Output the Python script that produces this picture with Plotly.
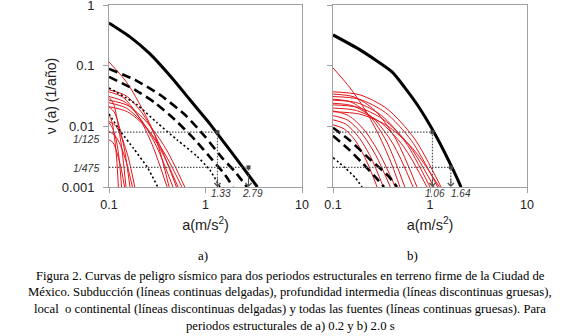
import numpy as np
import plotly.graph_objects as go

# ---- data: a (m/s2) vs exceedance rate nu(a) (1/yr) ----
# panel a) T = 0.2 s
a_total_a = [0.1, 0.165, 0.266, 0.429, 0.69, 1.11, 1.59, 2.28, 3.45]
v_total_a = [0.506, 0.298, 0.156, 0.068, 0.0274, 0.011, 0.00518, 0.00243, 0.001]

a_inter_a = [[0.1, 0.186, 0.337, 0.613, 0.989, 1.48, 2.02, 2.69],
             [0.1, 0.186, 0.30, 0.483, 0.778, 1.17, 1.59, 1.93]]
v_inter_a = [[0.0886, 0.0584, 0.0331, 0.0155, 0.00675, 0.00305, 0.00179, 0.001],
             [0.0655, 0.040, 0.0244, 0.0128, 0.006, 0.00282, 0.0016, 0.001]]

a_local_a = [[0.1, 0.195, 0.314, 0.507, 0.817, 1.11, 1.41],
             [0.1, 0.13, 0.18, 0.25, 0.32]]
v_local_a = [[0.043, 0.0227, 0.0115, 0.006, 0.0032, 0.0019, 0.001],
             [0.016, 0.0085, 0.0043, 0.0021, 0.001]]

a_sub_a = [[0.1, 0.14, 0.2, 0.28, 0.4],
           [0.1, 0.147, 0.214, 0.314, 0.46],
           [0.1, 0.151, 0.228, 0.344, 0.52],
           [0.1, 0.155, 0.239, 0.369, 0.57],
           [0.1, 0.157, 0.247, 0.388, 0.61],
           [0.1, 0.107, 0.114, 0.12, 0.125],
           [0.1, 0.11, 0.12, 0.128, 0.135],
           [0.1, 0.111, 0.122, 0.136, 0.15],
           [0.1, 0.113, 0.128, 0.146, 0.165],
           [0.1, 0.115, 0.132, 0.152, 0.175],
           [0.1, 0.11, 0.12, 0.132, 0.145],
           [0.1, 0.15, 0.2, 0.3, 0.42],
           [0.1, 0.15, 0.224, 0.334, 0.5],
           [0.1, 0.117, 0.136, 0.159, 0.185]]
v_sub_a = [[0.037, 0.030, 0.015, 0.005, 0.001],
           [0.031, 0.025, 0.013, 0.0045, 0.001],
           [0.0245, 0.020, 0.011, 0.0041, 0.001],
           [0.021, 0.0174, 0.0098, 0.0038, 0.001],
           [0.027, 0.022, 0.0117, 0.0043, 0.001],
           [0.0155, 0.012, 0.0065, 0.003, 0.001],
           [0.0115, 0.009, 0.0055, 0.0027, 0.001],
           [0.030, 0.024, 0.0126, 0.0042, 0.001],
           [0.021, 0.0173, 0.0098, 0.0038, 0.001],
           [0.0082, 0.0071, 0.0048, 0.0025, 0.001],
           [0.006, 0.0054, 0.0038, 0.0022, 0.001],
           [0.115, 0.055, 0.026, 0.007, 0.001],
           [0.04, 0.032, 0.016, 0.005, 0.001],
           [0.012, 0.0103, 0.0065, 0.003, 0.001]]

# panel b) T = 2.0 s
a_total_b = [0.1, 0.19, 0.406, 0.552, 0.752, 1.18, 1.73, 2.09]
v_total_b = [0.321, 0.182, 0.079, 0.0431, 0.0218, 0.0065, 0.00193, 0.001]

a_inter_b = [[0.1, 0.15, 0.23, 0.369, 0.457],
             [0.1, 0.143, 0.199, 0.271, 0.336]]
v_inter_b = [[0.0095, 0.0058, 0.00305, 0.00154, 0.001],
             [0.0070, 0.00428, 0.00252, 0.00148, 0.001]]

a_local_b = [[0.1, 0.133, 0.169, 0.199]]
v_local_b = [[0.00305, 0.00208, 0.00143, 0.001]]

a_sub_b = [[0.1, 0.19, 0.36, 0.685, 1.30],
           [0.1, 0.186, 0.346, 0.644, 1.20],
           [0.1, 0.182, 0.331, 0.604, 1.10],
           [0.1, 0.178, 0.316, 0.562, 1.0],
           [0.1, 0.175, 0.305, 0.532, 0.93],
           [0.1, 0.188, 0.353, 0.665, 1.25],
           [0.1, 0.135, 0.182, 0.245, 0.33],
           [0.1, 0.13, 0.169, 0.219, 0.285],
           [0.1, 0.141, 0.198, 0.277, 0.39],
           [0.1, 0.145, 0.21, 0.303, 0.44],
           [0.1, 0.161, 0.259, 0.417, 0.67],
           [0.1, 0.165, 0.271, 0.446, 0.735],
           [0.1, 0.153, 0.234, 0.359, 0.55],
           [0.1, 0.15, 0.214, 0.306, 0.406, 0.49]]
v_sub_b = [[0.037, 0.033, 0.0195, 0.0064, 0.001],
           [0.031, 0.028, 0.0169, 0.0058, 0.001],
           [0.0226, 0.0205, 0.013, 0.005, 0.001],
           [0.027, 0.0244, 0.0151, 0.0054, 0.001],
           [0.020, 0.0182, 0.0118, 0.0047, 0.001],
           [0.0174, 0.0159, 0.0105, 0.0043, 0.001],
           [0.0128, 0.0109, 0.0068, 0.0031, 0.001],
           [0.0106, 0.0091, 0.0059, 0.0028, 0.001],
           [0.015, 0.0127, 0.0076, 0.0033, 0.001],
           [0.018, 0.015, 0.0087, 0.0035, 0.001],
           [0.024, 0.0217, 0.0137, 0.0051, 0.001],
           [0.034, 0.0305, 0.0182, 0.0061, 0.001],
           [0.028, 0.0252, 0.0155, 0.0055, 0.001],
           [0.092, 0.043, 0.0188, 0.0065, 0.0023, 0.001]]

# return-period levels and the design accelerations read at them
levels = [1/125, 1/475]
level_labels = ["1/125", "1/475"]
a_design_a = [1.33, 2.79]
a_design_b = [1.06, 1.64]

x_ticks = [0.1, 1, 10]
y_ticks = [1, 0.1, 0.01, 0.001]

caption = [
    "Figura 2. Curvas de peligro sísmico para dos periodos estructurales en terreno firme de la Ciudad de",
    "México. Subducción (líneas continuas delgadas), profundidad intermedia (líneas discontinuas gruesas),",
    "local \u00a0o continental (líneas discontinuas delgadas) y todas las fuentes (líneas continuas gruesas). Para",
    "periodos estructurales de a) 0.2 y b) 2.0 s",
]

SANS = "Arial, Liberation Sans, sans-serif"
SERIF = "Times New Roman, Liberation Serif, serif"
RED = "#e3161c"
GUIDE = "#555555"
W, H = 580, 336

fig = go.Figure()

panels = [
    ("x", "y", a_total_a, v_total_a, a_inter_a, v_inter_a, a_local_a, v_local_a, a_sub_a, v_sub_a, a_design_a),
    ("x2", "y2", a_total_b, v_total_b, a_inter_b, v_inter_b, a_local_b, v_local_b, a_sub_b, v_sub_b, a_design_b),
]

for xr, yr, at, vt, ai, vi, al, vl, asub, vsub, ades in panels:
    # subduction sources: thin red
    for xs, ys in zip(asub, vsub):
        fig.add_trace(go.Scatter(x=xs, y=ys, xaxis=xr, yaxis=yr, mode="lines",
                                 line=dict(color=RED, width=1, shape="spline", smoothing=0.8)))
    # local / continental: thin dotted
    for xs, ys in zip(al, vl):
        fig.add_trace(go.Scatter(x=xs, y=ys, xaxis=xr, yaxis=yr, mode="lines",
                                 line=dict(color="black", width=1.6, dash="2px,2.5px",
                                           shape="spline", smoothing=0.6)))
    # intermediate depth: thick dashed
    for xs, ys in zip(ai, vi):
        fig.add_trace(go.Scatter(x=xs, y=ys, xaxis=xr, yaxis=yr, mode="lines",
                                 line=dict(color="black", width=2.6, dash="9px,5px",
                                           shape="spline", smoothing=0.6)))
    # all sources: thick solid
    fig.add_trace(go.Scatter(x=at, y=vt, xaxis=xr, yaxis=yr, mode="lines",
                             line=dict(color="black", width=3, shape="spline", smoothing=0.6)))

    # dotted guides: horizontal at each level, then down to the axis
    for lev, ad in zip(levels, ades):
        fig.add_trace(go.Scatter(x=[0.1, ad, ad], y=[lev, lev, 0.001], xaxis=xr, yaxis=yr,
                                 mode="lines", line=dict(color=GUIDE, width=1.2, dash="1.5px,1.5px")))
        # short stub of the guide to the left of the axis
        fig.add_shape(type="line", xref=f"{xr} domain", yref=yr, x0=-0.045, x1=0,
                      y0=np.log10(lev), y1=np.log10(lev),
                      line=dict(color=GUIDE, width=1.2, dash="1.5px,1.5px"))
        fig.add_trace(go.Scatter(x=[ad], y=[lev], xaxis=xr, yaxis=yr, mode="markers",
                                 marker=dict(symbol="square", size=4, color="#444")))
        fig.add_annotation(x=np.log10(ad), y=-3, xref=xr, yref=yr, ax=0, ay=-10,
                           text="", showarrow=True, arrowhead=4, arrowsize=1.2,
                           arrowwidth=1, arrowcolor=GUIDE)

# design acceleration labels under the x axes
for xr, ades, shifts in [("x", a_design_a, [4, 4]), ("x2", a_design_b, [3, 10])]:
    for ad, sh in zip(ades, shifts):
        fig.add_annotation(x=np.log10(ad), y=1 - 193 / H, xref=xr, yref="paper",
                           xanchor="center", yanchor="middle",
                           text=f"<i>{ad:.2f}</i>", showarrow=False, xshift=sh,
                           font=dict(family=SANS, size=10, color="#333"))

# return-period labels on the left axis of panel a
for lev, lab, sh in zip(levels, level_labels, [-7, -1]):
    fig.add_annotation(x=0, xref="x domain", y=np.log10(lev), yref="y",
                       xanchor="right", yanchor="middle",
                       xshift=-8, yshift=sh, text=f"<i>{lab}</i>", showarrow=False,
                       font=dict(family=SANS, size=10.5, color="#333"))

# panel letters and caption
for lab, xp in [("a)", 203), ("b)", 412)]:
    fig.add_annotation(x=xp / W, y=1 - 255 / H, xref="paper", yref="paper", text=lab,
                       xanchor="center", yanchor="middle", showarrow=False,
                       font=dict(family=SERIF, size=13, color="black"))
for i, line in enumerate(caption):
    fig.add_annotation(x=0.5, y=1 - (275.5 + 16.7 * i) / H, xref="paper", yref="paper",
                       xanchor="center", yanchor="middle", text=line, showarrow=False,
                       font=dict(family=SERIF, size=12.7, color="black"))

axis_common = dict(type="log", showgrid=False, zeroline=False, showline=True,
                   linecolor="#a0a0a0", linewidth=1, mirror=True,
                   ticks="outside", tickcolor="#a0a0a0", ticklen=5,
                   ticklabeloverflow="allow", automargin=False)

xtitle = dict(text="a(m/s<sup>2</sup>)", standoff=8,
              font=dict(family=SANS, size=14.5, color="#222"))

fig.update_layout(
    width=W, height=H,
    margin=dict(l=0, r=0, t=0, b=0, autoexpand=False),
    paper_bgcolor="white", plot_bgcolor="white",
    showlegend=False,
    xaxis=dict(axis_common, domain=[109 / W, 302 / W], range=[-1, 1], anchor="y",
               tickvals=x_ticks, ticktext=["0.1", "1", "10"], ticklabelstandoff=1,
               tickfont=dict(family=SANS, size=12.5, color="#222"), title=xtitle),
    xaxis2=dict(axis_common, domain=[333 / W, 527 / W], range=[-1, 1], anchor="y2",
                tickvals=x_ticks, ticktext=["0.1", "1", "10"], ticklabelstandoff=1,
                tickfont=dict(family=SANS, size=12.5, color="#222"), title=xtitle),
    yaxis=dict(axis_common, domain=[1 - 187 / H, 1 - 5 / H], range=[-3, 0], anchor="x",
               tickvals=y_ticks, ticktext=["1", "0.1", "0.01", "0.001"], ticklabelstandoff=6,
               tickfont=dict(family=SANS, size=13, color="#222"),
               title=dict(text="ν (a) (1/año)", standoff=1,
                          font=dict(family=SANS, size=14, color="#222"))),
    yaxis2=dict(axis_common, domain=[1 - 187 / H, 1 - 5 / H], range=[-3, 0], anchor="x2",
                tickvals=y_ticks, showticklabels=False),
)

# the page body has a default 8px margin; drop it so the figure sits at the window origin
fig.write_html("out.html", config={"displayModeBar": False},
               post_script="document.body.style.margin = '0';")
